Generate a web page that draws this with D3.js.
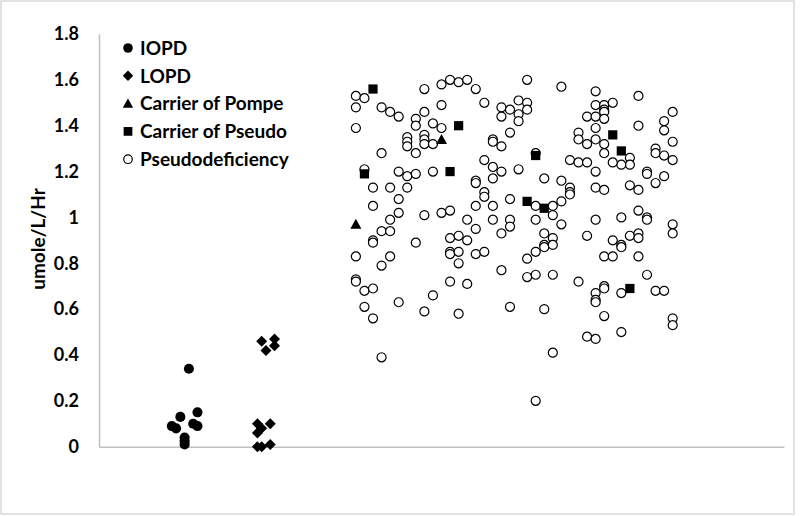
<!DOCTYPE html>
<html>
<head>
<meta charset="utf-8">
<script src="https://cdn.jsdelivr.net/npm/d3@7"></script>
<style>
  body { margin: 0; background: #fff; }
  text { font-family: Lato, "Open Sans", sans-serif; font-weight: bold; fill: #000; }
</style>
</head>
<body>
<div class="container"></div>
<script>
// enzyme activity by group, x = jitter column, y = umole/L/Hr

var yTicks = [0, 0.2, 0.4, 0.6, 0.8, 1, 1.2, 1.4, 1.6, 1.8];
var seriesNames = ['IOPD', 'LOPD', 'Carrier of Pompe', 'Carrier of Pseudo', 'Pseudodeficiency'];

var iopd = [[1.05, 0.34], [1.15, 0.15], [0.95, 0.13], [0.85, 0.09], [0.9, 0.08],
            [1.1, 0.10], [1.15, 0.09], [1.0, 0.04], [1.0, 0.025], [1.0, 0.01]];

var lopd = [[1.9, 0.46], [2.05, 0.47], [2.05, 0.44], [1.95, 0.42], [1.85, 0.10],
            [2.0, 0.10], [1.9, 0.08], [1.85, 0.06], [1.85, 0.0], [1.9, 0.0], [2.0, 0.01]];

var carrierPompe = [[4.0, 1.34], [3.0, 0.97]];

var carrierPseudo = [[3.2, 1.56], [4.2, 1.40], [3.1, 1.19], [4.1, 1.20], [5.1, 1.27],
                     [5.0, 1.07], [5.2, 1.04], [6.0, 1.36], [6.1, 1.29], [6.2, 0.69]];

var pseudo = [
  [3.0, 1.53], [3.1, 1.52], [3.0, 1.48], [3.8, 1.56], [4.0, 1.58], [4.1, 1.60], [4.2, 1.59],
  [4.3, 1.60], [4.4, 1.56], [4.5, 1.50], [3.3, 1.48], [3.4, 1.46], [3.5, 1.44], [4.0, 1.49],
  [3.8, 1.46], [3.7, 1.43], [3.9, 1.41], [3.7, 1.40], [4.0, 1.39], [3.0, 1.39], [3.8, 1.36],
  [3.6, 1.35], [3.6, 1.33], [3.6, 1.31], [3.8, 1.34], [3.8, 1.32], [3.9, 1.32], [3.7, 1.28],
  [3.3, 1.28], [4.6, 1.34], [4.6, 1.33], [3.1, 1.21], [3.5, 1.20], [3.6, 1.18], [3.7, 1.19],
  [3.9, 1.20], [4.5, 1.25], [4.6, 1.22], [4.4, 1.16], [4.4, 1.15], [4.6, 1.17], [3.2, 1.13],
  [3.4, 1.13], [3.6, 1.13], [3.5, 1.08], [4.5, 1.11], [4.5, 1.09], [3.2, 1.05], [3.5, 1.02],
  [3.8, 1.01], [4.0, 1.02], [4.1, 1.03], [4.4, 1.05], [4.6, 1.05], [3.4, 0.99], [3.3, 0.94],
  [3.4, 0.94], [4.3, 0.99], [4.4, 0.95], [4.6, 0.99], [3.2, 0.90], [3.2, 0.89], [3.7, 0.89],
  [4.1, 0.91], [4.2, 0.92], [4.3, 0.90], [3.0, 0.83], [3.4, 0.83], [3.3, 0.79], [4.1, 0.85],
  [4.1, 0.84], [4.2, 0.85], [4.2, 0.80], [4.4, 0.84], [4.5, 0.85], [3.0, 0.73], [3.0, 0.72],
  [3.1, 0.68], [3.2, 0.69], [4.1, 0.72], [4.3, 0.71], [3.9, 0.66], [3.5, 0.63], [3.8, 0.59],
  [4.2, 0.58], [3.1, 0.61], [3.2, 0.56], [3.3, 0.39],
  [5.0, 1.60], [5.4, 1.57], [5.8, 1.55], [6.3, 1.53], [4.7, 1.48], [4.7, 1.44], [4.8, 1.47],
  [4.9, 1.51], [5.0, 1.50], [5.0, 1.47], [4.9, 1.45], [4.9, 1.42], [4.8, 1.37], [4.7, 1.31],
  [5.8, 1.49], [5.9, 1.49], [5.9, 1.47], [5.9, 1.46], [6.0, 1.50], [5.7, 1.44], [5.8, 1.44],
  [5.9, 1.43], [6.3, 1.40], [5.6, 1.37], [5.6, 1.34], [5.8, 1.39], [5.8, 1.34], [5.7, 1.32],
  [5.9, 1.32], [5.9, 1.28], [6.2, 1.26], [6.2, 1.23], [6.1, 1.23], [6.0, 1.24], [6.5, 1.30],
  [6.5, 1.28], [5.1, 1.28], [5.5, 1.25], [5.6, 1.24], [5.7, 1.24], [5.8, 1.20], [4.7, 1.20],
  [4.9, 1.21], [5.2, 1.17], [5.4, 1.16], [5.5, 1.13], [5.5, 1.11], [5.5, 1.10], [5.8, 1.13],
  [5.9, 1.12], [6.2, 1.14], [6.3, 1.12], [6.4, 1.20], [6.4, 1.19], [6.5, 1.15], [4.8, 1.08],
  [5.1, 1.05], [5.3, 1.05], [5.4, 1.07], [5.3, 1.01], [5.1, 0.99], [5.4, 0.97], [4.8, 0.99],
  [4.8, 0.96], [5.8, 0.99], [6.1, 1.00], [6.3, 1.03], [6.4, 1.00], [6.4, 0.99], [6.7, 1.46],
  [6.6, 1.42], [6.6, 1.38], [6.7, 1.33], [6.6, 1.27], [6.7, 1.25], [6.6, 1.18], [6.7, 0.97],
  [6.7, 0.93], [4.7, 0.93], [5.2, 0.93], [5.3, 0.91], [5.2, 0.88], [5.2, 0.87], [5.3, 0.88],
  [5.1, 0.85], [5.0, 0.82], [5.7, 0.92], [6.0, 0.90], [6.1, 0.88], [6.1, 0.87], [6.2, 0.92],
  [6.3, 0.93], [6.3, 0.91], [5.9, 0.83], [6.0, 0.83], [6.3, 0.83], [4.7, 0.77], [5.0, 0.74],
  [5.1, 0.75], [5.3, 0.75], [5.6, 0.72], [5.8, 0.67], [5.8, 0.64], [5.8, 0.63], [5.9, 0.70],
  [5.9, 0.69], [6.1, 0.67], [6.4, 0.75], [6.5, 0.68], [6.6, 0.68], [4.8, 0.61], [5.2, 0.60],
  [5.9, 0.57], [6.1, 0.50], [5.7, 0.48], [5.8, 0.47], [5.3, 0.41], [5.1, 0.20], [6.7, 0.56],
  [6.7, 0.53]
];

var chartOptions = {width: 800, height: 516};

var svg = d3.select('.container')
    .append('svg')
    .attr('width', chartOptions.width)
    .attr('height', chartOptions.height);

// chart frame
svg.append('rect')
    .attr('x', 1).attr('y', 1)
    .attr('width', 793).attr('height', 513)
    .attr('fill', '#fff')
    .attr('stroke', '#d9d9d9')
    .attr('stroke-width', 1.5);

var x = d3.scaleLinear().domain([0, 8]).range([99, 784]);
var y = d3.scaleLinear().domain([0, 1.8]).range([446.7, 34]);

var yAxis = d3.axisLeft(y)
    .tickValues(yTicks)
    .tickSize(0)
    .tickPadding(20)
    .tickFormat(function(d){ return String(+d.toFixed(1)); });

var gy = svg.append('g')
    .attr('transform', 'translate(99,0)')
    .call(yAxis);
gy.selectAll('text').style('font-size', '18px').style('font-family', 'Lato, sans-serif');
gy.select('.domain').attr('stroke', '#bfbfbf').attr('stroke-width', 1.5);

var xAxis = d3.axisBottom(x).tickValues([]).tickSizeOuter(0);
var gx = svg.append('g')
    .attr('transform', 'translate(0,' + y(0) + ')')
    .call(xAxis);
gx.select('.domain').attr('stroke', '#bfbfbf').attr('stroke-width', 1.5);

// axis title
svg.append('text')
    .attr('transform', 'translate(45,' + 239 + ') rotate(-90)')
    .attr('text-anchor', 'middle')
    .style('font-size', '19px')
    .text('umole/L/Hr');

// marker shapes
var triangle = {
  draw: function(context, size) {
    var h = Math.sqrt(size);
    context.moveTo(0, -h * 0.55);
    context.lineTo(h * 0.55, h * 0.45);
    context.lineTo(-h * 0.55, h * 0.45);
    context.closePath();
  }
};
var diamond = {
  draw: function(context, size) {
    var r = Math.sqrt(size) / 2;
    context.moveTo(0, -r);
    context.lineTo(r, 0);
    context.lineTo(0, r);
    context.lineTo(-r, 0);
    context.closePath();
  }
};

var series = [
  {name: seriesNames[0], data: iopd, type: d3.symbolCircle, size: 80, fill: '#000', stroke: 'none'},
  {name: seriesNames[1], data: lopd, type: diamond, size: 121, fill: '#000', stroke: 'none'},
  {name: seriesNames[2], data: carrierPompe, type: triangle, size: 100, fill: '#000', stroke: 'none'},
  {name: seriesNames[3], data: carrierPseudo, type: d3.symbolSquare, size: 85, fill: '#000', stroke: 'none'},
  {name: seriesNames[4], data: pseudo, type: d3.symbolCircle, size: 64, fill: '#fff', stroke: '#000'}
];

// draw pseudodeficiency first so filled markers sit on top
var drawOrder = [4, 0, 1, 2, 3];
drawOrder.forEach(function(i){
  var s = series[i];
  svg.append('g').selectAll('path')
      .data(s.data)
      .enter().append('path')
      .attr('transform', function(d){ return 'translate(' + x(d[0]) + ',' + y(d[1]) + ')'; })
      .attr('d', d3.symbol().type(s.type).size(s.size))
      .attr('fill', s.fill)
      .attr('stroke', s.stroke)
      .attr('stroke-width', 1.2);
});

// legend
var legend = svg.append('g').selectAll('g')
    .data(series)
    .enter().append('g')
    .attr('transform', function(d, i){ return 'translate(128,' + (48 + i * 27.8) + ')'; });

legend.append('path')
    .attr('d', function(d){ return d3.symbol().type(d.type).size(d.size * 0.9)(); })
    .attr('fill', function(d){ return d.fill; })
    .attr('stroke', function(d){ return d.stroke; })
    .attr('stroke-width', 1.2);

legend.append('text')
    .attr('x', 12)
    .attr('dy', '0.36em')
    .style('font-size', '19px')
    .text(function(d){ return d.name; });
</script>
</body>
</html>
